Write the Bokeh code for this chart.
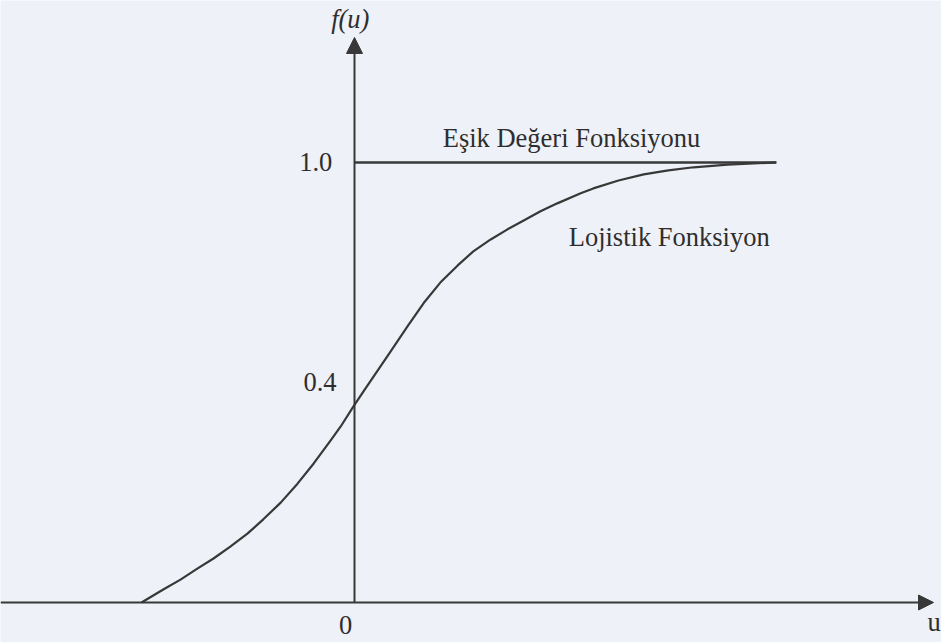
from bokeh.plotting import figure
from bokeh.models import Arrow, NormalHead, Range1d
from bokeh.core.properties import value
from bokeh.embed import file_html
from bokeh.resources import INLINE

# Logistic curve f(u), sampled along u
u_vals = [-3.55, -3.18, -2.90, -2.62, -2.35, -2.07, -1.78, -1.52, -1.23, -0.95,
          -0.68, -0.40, -0.23, -0.02, 0.15, 0.32, 0.60, 0.88, 1.15, 1.43,
          1.72, 1.98, 2.27, 2.55, 2.82, 3.10, 3.38, 3.77, 3.98, 4.40,
          4.82, 5.23, 5.65, 6.22, 7.03]
f_vals = [0.0, 0.030, 0.052, 0.077, 0.100, 0.127, 0.157, 0.189, 0.227, 0.270,
          0.316, 0.368, 0.400, 0.445, 0.480, 0.514, 0.570, 0.627, 0.680, 0.727,
          0.766, 0.798, 0.825, 0.848, 0.868, 0.889, 0.907, 0.930, 0.941, 0.959,
          0.973, 0.982, 0.989, 0.995, 1.0]

# Threshold (step) function: constant 1.0 for u >= 0
step_u = [0.0, 7.03]
step_f = [1.0, 1.0]

# Axis tick labels on f(u) and where they sit
tick_labels = ["1.0", "0.4"]
tick_label_f = [1.0, 0.5]

curve_names = ["Eşik Değeri Fonksiyonu", "Lojistik Fonksiyon"]

INK = "#383838"
TEXT = "#2e2e2e"
PAPER = "#eef1f7"
FONT = value("Liberation Serif")
SIZE = "26.5px"

p = figure(width=941, height=642, output_backend="svg", toolbar_location=None,
           x_range=Range1d(-5.9, 9.783), y_range=Range1d(-0.0909, 1.368),
           min_border=0, min_border_left=0, min_border_right=0,
           min_border_top=0, min_border_bottom=0)
p.axis.visible = False
p.grid.visible = False
p.outline_line_color = None
p.background_fill_color = PAPER
p.border_fill_color = PAPER

# Coordinate axes with arrow heads
p.add_layout(Arrow(end=NormalHead(size=15, fill_color=INK, line_color=INK),
                   x_start=-5.9, y_start=0.0, x_end=9.65, y_end=0.0,
                   line_color=INK, line_width=2))
p.add_layout(Arrow(end=NormalHead(size=16, fill_color=INK, line_color=INK),
                   x_start=0.0, y_start=0.0, x_end=0.0, y_end=1.284,
                   line_color=INK, line_width=2))

# Curves
p.line(step_u, step_f, line_color=INK, line_width=2.5)
p.line(u_vals, f_vals, line_color=INK, line_width=2.2, line_join="round")

# Tick labels on the f(u) axis
p.text(x=[-0.37, -0.30], y=tick_label_f, text=tick_labels,
       text_font=FONT, text_font_size=SIZE, text_color=TEXT,
       text_align="right", text_baseline="middle")

# Origin and axis names
p.text(x=[-0.15], y=[-0.052], text=["0"], text_font=FONT, text_font_size=SIZE,
       text_color=TEXT, text_align="center", text_baseline="middle")
p.text(x=[9.77], y=[-0.045], text=["u"], text_font=FONT, text_font_size=SIZE,
       text_color=TEXT, text_align="right", text_baseline="middle")
p.text(x=[-0.07], y=[1.325], text=["f(u)"], text_font=FONT, text_font_size=SIZE,
       text_font_style="italic", text_color=TEXT, text_align="center",
       text_baseline="middle")

# Curve names
p.text(x=[1.47, 3.57], y=[1.055, 0.83], text=curve_names, text_font=FONT,
       text_font_size=SIZE, text_color=TEXT, text_align="left",
       text_baseline="middle")

open("out.html", "w").write(file_html(p, INLINE))
